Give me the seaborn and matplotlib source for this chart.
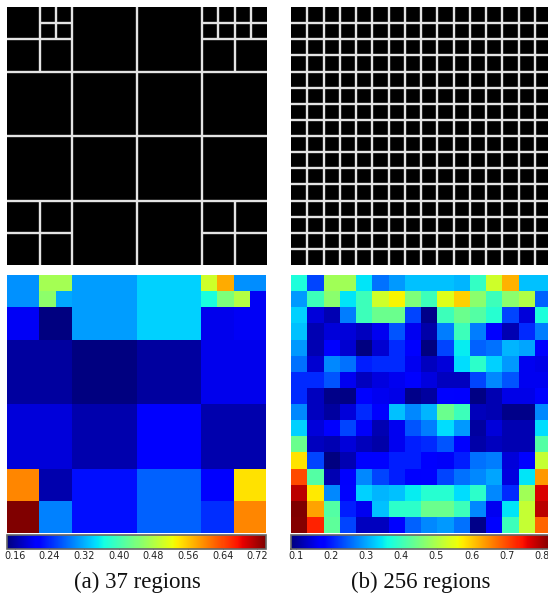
"""
Quadtree vs. uniform-grid region maps, with per-region scores shown as jet heatmaps.
(a) 37 quadtree regions, (b) 256 regions on a 16x16 grid.
"""

import numpy as np
import matplotlib
matplotlib.use("Agg")
import matplotlib.pyplot as plt
from matplotlib.colors import ListedColormap
import seaborn as sns

# --------------------------------------------------------------------------- #
# Data
# --------------------------------------------------------------------------- #
GRID_N = 16  # finest resolution, both panels

# quadtree regions in finest-grid units: top-left row, top-left col, side length
REGION_ROW = [0, 0, 0, 1, 1, 2, 2,
              0, 0,
              0, 0, 1, 1, 0, 0, 1, 1, 2, 2,
              4, 4, 4, 4,
              8, 8, 8, 8,
              12, 12, 14, 14, 12, 12, 12, 12, 14, 14]
REGION_COL = [0, 2, 3, 2, 3, 0, 2,
              4, 8,
              12, 13, 12, 13, 14, 15, 14, 15, 12, 14,
              0, 4, 8, 12,
              0, 4, 8, 12,
              0, 2, 0, 2, 4, 8, 12, 14, 12, 14]
REGION_SIZE = [2, 1, 1, 1, 1, 2, 2,
               4, 4,
               1, 1, 1, 1, 1, 1, 1, 1, 2, 2,
               4, 4, 4, 4,
               4, 4, 4, 4,
               2, 2, 2, 2, 4, 4, 2, 2, 2, 2]
REGION_VALUE = [0.303, 0.471, 0.471, 0.453, 0.315, 0.205, 0.144,
                0.310, 0.339,
                0.500, 0.578, 0.370, 0.441, 0.303, 0.300, 0.483, 0.205, 0.200, 0.205,
                0.160, 0.142, 0.160, 0.200,
                0.190, 0.166, 0.214, 0.166,
                0.602, 0.166, 0.740, 0.292, 0.226, 0.274, 0.214, 0.543, 0.244, 0.602]

# 16x16 uniform grid scores (row 0 = top)
GRID_VALUES = [
    [0.37, 0.23, 0.49, 0.49, 0.345, 0.26, 0.29, 0.32, 0.32, 0.32, 0.31, 0.39, 0.53, 0.62, 0.32, 0.32],
    [0.29, 0.40, 0.47, 0.345, 0.40, 0.53, 0.567, 0.456, 0.40, 0.545, 0.595, 0.47, 0.40, 0.47, 0.505, 0.25],
    [0.33, 0.145, 0.12, 0.27, 0.40, 0.44, 0.44, 0.23, 0.095, 0.40, 0.44, 0.42, 0.38, 0.23, 0.145, 0.37],
    [0.32, 0.12, 0.145, 0.145, 0.13, 0.16, 0.24, 0.16, 0.115, 0.27, 0.40, 0.27, 0.168, 0.12, 0.21, 0.27],
    [0.29, 0.12, 0.168, 0.14, 0.087, 0.14, 0.21, 0.168, 0.087, 0.23, 0.35, 0.25, 0.26, 0.31, 0.30, 0.168],
    [0.26, 0.14, 0.28, 0.26, 0.20, 0.21, 0.21, 0.16, 0.13, 0.145, 0.34, 0.385, 0.33, 0.29, 0.16, 0.155],
    [0.21, 0.21, 0.24, 0.16, 0.13, 0.15, 0.16, 0.18, 0.15, 0.13, 0.13, 0.23, 0.28, 0.24, 0.16, 0.16],
    [0.21, 0.13, 0.095, 0.09, 0.18, 0.16, 0.155, 0.095, 0.11, 0.18, 0.168, 0.09, 0.12, 0.155, 0.155, 0.18],
    [0.28, 0.13, 0.11, 0.145, 0.21, 0.168, 0.32, 0.28, 0.31, 0.44, 0.40, 0.125, 0.12, 0.095, 0.095, 0.28],
    [0.33, 0.145, 0.168, 0.23, 0.165, 0.12, 0.16, 0.24, 0.27, 0.34, 0.29, 0.11, 0.145, 0.12, 0.12, 0.34],
    [0.44, 0.13, 0.12, 0.145, 0.125, 0.115, 0.16, 0.20, 0.21, 0.24, 0.168, 0.115, 0.13, 0.12, 0.12, 0.42],
    [0.58, 0.23, 0.087, 0.12, 0.18, 0.18, 0.20, 0.20, 0.168, 0.165, 0.20, 0.26, 0.27, 0.145, 0.18, 0.52],
    [0.70, 0.42, 0.12, 0.168, 0.28, 0.23, 0.20, 0.168, 0.18, 0.23, 0.26, 0.28, 0.30, 0.15, 0.345, 0.64],
    [0.785, 0.575, 0.28, 0.18, 0.33, 0.31, 0.32, 0.35, 0.38, 0.38, 0.34, 0.385, 0.28, 0.21, 0.49, 0.765],
    [0.825, 0.63, 0.42, 0.20, 0.16, 0.32, 0.385, 0.385, 0.44, 0.44, 0.40, 0.28, 0.16, 0.345, 0.52, 0.785],
    [0.82, 0.73, 0.43, 0.23, 0.13, 0.13, 0.18, 0.25, 0.28, 0.29, 0.26, 0.095, 0.18, 0.40, 0.52, 0.68],
]

QT_RANGE = (0.142, 0.740)
QT_TICKS = [0.16, 0.24, 0.32, 0.40, 0.48, 0.56, 0.64, 0.72]
GRID_RANGE = (0.087, 0.825)
GRID_TICKS = [0.1, 0.2, 0.3, 0.4, 0.5, 0.6, 0.7, 0.8]

CAPTIONS = ["(a) 37 regions", "(b) 256 regions"]

LINE_COLOR = "#e4e4e4"
OUT = "out.png"


# --------------------------------------------------------------------------- #
# Helpers
# --------------------------------------------------------------------------- #
def black_panel(ax):
    """Black 16x16 canvas through seaborn, no ticks."""
    sns.heatmap(np.zeros((GRID_N, GRID_N)), ax=ax, cmap=ListedColormap(["black"]),
                cbar=False, xticklabels=False, yticklabels=False)
    ax.set_xlim(0, GRID_N)
    ax.set_ylim(GRID_N, 0)


def score_panel(ax, cax, grid, vrange, ticks, fmt):
    sns.heatmap(grid, ax=ax, cmap="jet", vmin=vrange[0], vmax=vrange[1],
                cbar_ax=cax, cbar_kws={"orientation": "horizontal"},
                xticklabels=False, yticklabels=False)
    ax.set_xlim(0, GRID_N)
    ax.set_ylim(GRID_N, 0)
    cb = ax.collections[0].colorbar
    cb.set_ticks(ticks)
    cb.set_ticklabels([fmt % t for t in ticks])
    cb.outline.set_edgecolor("#666666")
    cb.outline.set_linewidth(1.2)
    cax.tick_params(axis="x", direction="in", length=3, width=0.6, color="#333333",
                    labelsize=7, pad=1.5, labelcolor="#222222")


# --------------------------------------------------------------------------- #
# Figure
# --------------------------------------------------------------------------- #
def main():
    sns.set_style("white")
    plt.rcParams["font.family"] = ["DejaVu Sans"]

    W, H = 548, 596
    fig = plt.figure(figsize=(W / 100, H / 100), dpi=100)

    def box(x0, y0, x1, y1):
        return [x0 / W, 1 - y1 / H, (x1 - x0) / W, (y1 - y0) / H]

    ax_qt = fig.add_axes(box(7, 7, 267, 265))
    ax_gr = fig.add_axes(box(291, 7, 551, 265))
    ax_qh = fig.add_axes(box(7, 275, 266, 533))
    ax_gh = fig.add_axes(box(291, 275, 551, 533))
    cax_q = fig.add_axes(box(7, 535, 266, 549))
    cax_g = fig.add_axes(box(291, 535, 551, 549))

    # (a) quadtree layout: draw only interior borders (top/left edge of each region)
    black_panel(ax_qt)
    for r, c, s in zip(REGION_ROW, REGION_COL, REGION_SIZE):
        if r > 0:
            ax_qt.hlines(r, c, c + s, colors=LINE_COLOR, lw=1.7)
        if c > 0:
            ax_qt.vlines(c, r, r + s, colors=LINE_COLOR, lw=1.7)

    # (b) uniform 16x16 layout
    black_panel(ax_gr)
    inner = np.arange(1, GRID_N)
    ax_gr.hlines(inner, 0, GRID_N, colors=LINE_COLOR, lw=1.7)
    ax_gr.vlines(inner, 0, GRID_N, colors=LINE_COLOR, lw=1.7)

    # region scores -> fill each region's block on the fine grid
    qt_grid = np.full((GRID_N, GRID_N), np.nan)
    for r, c, s, v in zip(REGION_ROW, REGION_COL, REGION_SIZE, REGION_VALUE):
        qt_grid[r:r + s, c:c + s] = v

    score_panel(ax_qh, cax_q, qt_grid, QT_RANGE, QT_TICKS, "%.2f")
    score_panel(ax_gh, cax_g, np.array(GRID_VALUES), GRID_RANGE, GRID_TICKS, "%.1f")

    for ax in (ax_qt, ax_gr, ax_qh, ax_gh):
        for sp in ax.spines.values():
            sp.set_visible(False)

    cap_kw = dict(ha="center", va="baseline", fontsize=16.5,
                  family=["Liberation Serif", "DejaVu Serif"], color="#111111")
    fig.text(137 / W, 1 - 588 / H, CAPTIONS[0], **cap_kw)
    fig.text(421 / W, 1 - 588 / H, CAPTIONS[1], **cap_kw)

    fig.savefig(OUT, dpi=100, facecolor="white")
    plt.close(fig)


if __name__ == "__main__":
    main()
